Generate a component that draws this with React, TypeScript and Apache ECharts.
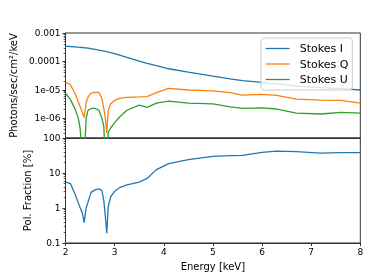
import React, { useEffect, useRef } from "react";
import * as echarts from "echarts";

const energy = [2.0, 2.1, 2.2, 2.26, 2.3, 2.34, 2.38, 2.42, 2.46, 2.52, 2.6, 2.68, 2.74, 2.78, 2.81, 2.84, 2.87, 2.92, 3.0, 3.1, 3.25, 3.5, 3.66, 3.85, 4.1, 4.5, 5.0, 5.35, 5.6, 6.0, 6.3, 6.7, 7.2, 7.6, 8.0];

const stokesI = [3.47e-4, 3.35e-4, 3.24e-4, 3.16e-4, 3.13e-4, 3.09e-4, 3.02e-4, 2.99e-4, 2.92e-4, 2.79e-4, 2.66e-4, 2.51e-4, 2.4e-4, 2.32e-4, 2.26e-4, 2.19e-4, 2.11e-4, 2.02e-4, 1.86e-4, 1.66e-4, 1.38e-4, 1.02e-4, 8.5e-5, 7.1e-5, 5.5e-5, 4.17e-5, 3.0e-5, 2.4e-5, 2.09e-5, 1.82e-5, 1.62e-5, 1.35e-5, 1.2e-5, 1.1e-5, 9.8e-6];

const stokesQ = [1.86e-5, 1.5e-5, 7.1e-6, 3.7e-6, 2.5e-6, 1.66e-6, 1.07e-6, 3.5e-6, 5.6e-6, 7.6e-6, 8.1e-6, 8.1e-6, 5.0e-6, 2.2e-6, 1.0e-6, 3.0e-7, 1.9e-6, 3.2e-6, 4.2e-6, 5.0e-6, 5.4e-6, 5.6e-6, 5.75e-6, 7.9e-6, 1.12e-5, 9.8e-6, 9.1e-6, 7.9e-6, 6.5e-6, 6.9e-6, 6.3e-6, 4.7e-6, 4.3e-6, 4.2e-6, 3.4e-6];

const stokesU = [7.6e-6, 4.5e-6, 2.0e-6, 1.0e-6, 4.0e-7, 3e-8, 3e-8, 1.0e-6, 1.9e-6, 2.2e-6, 2.2e-6, 1.9e-6, 1.0e-6, 5e-7, 3e-8, 3e-8, 3.2e-7, 4.5e-7, 7e-7, 1.1e-6, 1.9e-6, 2.9e-6, 2.4e-6, 3.4e-6, 4.0e-6, 3.4e-6, 3.2e-6, 2.5e-6, 2.2e-6, 2.3e-6, 2.1e-6, 1.5e-6, 1.4e-6, 1.6e-6, 1.5e-6];

const polFraction = [5.6, 5.0, 2.4, 1.4, 1.0, 0.75, 0.38, 1.0, 1.5, 2.8, 3.3, 3.5, 3.2, 1.6, 0.6, 0.19, 1.1, 2.1, 3.0, 3.8, 4.6, 5.5, 7.0, 12.5, 18.5, 24, 30, 31.5, 32, 39, 42, 41, 37, 38, 38];

const fluxLabels: Record<string, string> = {
  "0.001": "0.001",
  "0.0001": "0.0001",
  "0.00001": "1e-05",
  "0.000001": "1e-06",
};

const fluxMinorTicks = [3e-7, 4e-7, 5e-7, 6e-7, 7e-7, 8e-7, 9e-7, 2e-6, 3e-6, 4e-6, 5e-6, 6e-6, 7e-6, 8e-6, 9e-6, 2e-5, 3e-5, 4e-5, 5e-5, 6e-5, 7e-5, 8e-5, 9e-5, 2e-4, 3e-4, 4e-4, 5e-4, 6e-4, 7e-4, 8e-4, 9e-4];
const polMinorTicks = [0.2, 0.3, 0.4, 0.5, 0.6, 0.7, 0.8, 0.9, 2, 3, 4, 5, 6, 7, 8, 9, 20, 30, 40, 50, 60, 70, 80, 90];

const FONT = "DejaVu Sans";
const colors = ["#1f77b4", "#ff7f0e", "#2ca02c"];

function pairs(ys: number[]) {
  return energy.map((e, i) => [e, ys[i]]);
}

export default function App() {
  const ref = useRef<HTMLDivElement>(null);
  useEffect(() => {
    if (!ref.current) return;
    const chart = echarts.init(ref.current, undefined, { renderer: "svg" });
    const gridBase = {
      left: 65.5,
      right: 13.7,
      height: 105,
      show: true,
      borderColor: "#333",
      borderWidth: 1,
      backgroundColor: "transparent",
    };
    const axisLine = { show: true, lineStyle: { color: "#333", width: 1 } };
    const tick = { show: true, length: 3, lineStyle: { color: "#333", width: 1 } };
    const minorAxis = (gridIndex: number, min: number, max: number, values: number[]) => ({
      type: "log",
      logBase: 10,
      gridIndex,
      min,
      max,
      position: "left",
      axisLine: { show: false },
      splitLine: { show: false },
      axisLabel: { show: false },
      axisTick: { show: true, length: 1.8, customValues: values, lineStyle: { color: "#333", width: 0.8 } },
    });
    chart.setOption({
      animation: false,
      textStyle: { fontFamily: FONT },
      grid: [
        { ...gridBase, top: 33 },
        { ...gridBase, top: 138 },
      ],
      legend: {
        orient: "vertical",
        left: 261,
        top: 38,
        padding: [5, 4, 5, 4],
        itemWidth: 24,
        itemHeight: 12,
        itemGap: 4.5,
        backgroundColor: "rgba(255,255,255,0.8)",
        borderColor: "#cccccc",
        borderWidth: 1,
        borderRadius: 3,
        itemStyle: { opacity: 0 },
        lineStyle: { width: 1.3 },
        textStyle: { fontFamily: FONT, fontSize: 11, color: "#000", padding: [0, 0, 0, 5] },
        data: ["Stokes I", "Stokes Q", "Stokes U"],
      },
      xAxis: [
        {
          type: "value",
          gridIndex: 0,
          min: 2,
          max: 8,
          interval: 1,
          axisLine,
          axisTick: { show: false },
          axisLabel: { show: false },
          splitLine: { show: false },
        },
        {
          type: "value",
          gridIndex: 1,
          min: 2,
          max: 8,
          interval: 1,
          axisLine,
          axisTick: tick,
          axisLabel: { fontFamily: FONT, fontSize: 9, color: "#000", margin: 4 },
          splitLine: { show: false },
          name: "Energy [keV]",
          nameLocation: "middle",
          nameGap: 18,
          nameTextStyle: { fontFamily: FONT, fontSize: 10, color: "#000" },
        },
      ],
      yAxis: [
        {
          type: "log",
          logBase: 10,
          gridIndex: 0,
          min: 2e-7,
          max: 1e-3,
          axisLine,
          axisTick: tick,
          splitLine: { show: false },
          axisLabel: {
            fontFamily: FONT,
            fontSize: 9,
            color: "#000",
            margin: 5,
            showMinLabel: false,
            formatter: (v: number) => {
              const e = Math.round(Math.log10(v));
              const key = Math.pow(10, e).toFixed(-e);
              return fluxLabels[key] ?? "";
            },
          },
          name: "Photons/sec/cm²/keV",
          nameLocation: "middle",
          nameGap: 45,
          nameTextStyle: { fontFamily: FONT, fontSize: 10, color: "#000" },
        },
        {
          type: "log",
          logBase: 10,
          gridIndex: 1,
          min: 0.1,
          max: 100,
          axisLine,
          axisTick: tick,
          splitLine: { show: false },
          axisLabel: {
            fontFamily: FONT,
            fontSize: 9,
            color: "#000",
            margin: 5,
            formatter: (v: number) => {
              const e = Math.round(Math.log10(v));
              return e < 0 ? Math.pow(10, e).toFixed(-e) : String(Math.pow(10, e));
            },
          },
          name: "Pol. Fraction [%]",
          nameLocation: "middle",
          nameGap: 27,
          nameTextStyle: { fontFamily: FONT, fontSize: 10, color: "#000" },
        },
        minorAxis(0, 2e-7, 1e-3, fluxMinorTicks),
        minorAxis(1, 0.1, 100, polMinorTicks),
      ],
      series: [
        { name: "Stokes I", type: "line", xAxisIndex: 0, yAxisIndex: 0, data: pairs(stokesI), symbol: "none", clip: true, lineStyle: { color: colors[0], width: 1.3 }, itemStyle: { color: colors[0] } },
        { name: "Stokes Q", type: "line", xAxisIndex: 0, yAxisIndex: 0, data: pairs(stokesQ), symbol: "none", clip: true, lineStyle: { color: colors[1], width: 1.3 }, itemStyle: { color: colors[1] } },
        { name: "Stokes U", type: "line", xAxisIndex: 0, yAxisIndex: 0, data: pairs(stokesU), symbol: "none", clip: true, lineStyle: { color: colors[2], width: 1.3 }, itemStyle: { color: colors[2] } },
        { name: "Pol", type: "line", xAxisIndex: 1, yAxisIndex: 1, data: pairs(polFraction), symbol: "none", clip: true, lineStyle: { color: colors[0], width: 1.3 }, itemStyle: { color: colors[0] } },
      ],
    });
    return () => chart.dispose();
  }, []);
  return <div ref={ref} style={{ position: "fixed", left: 0, top: 0, width: 374, height: 280 }} />;
}
